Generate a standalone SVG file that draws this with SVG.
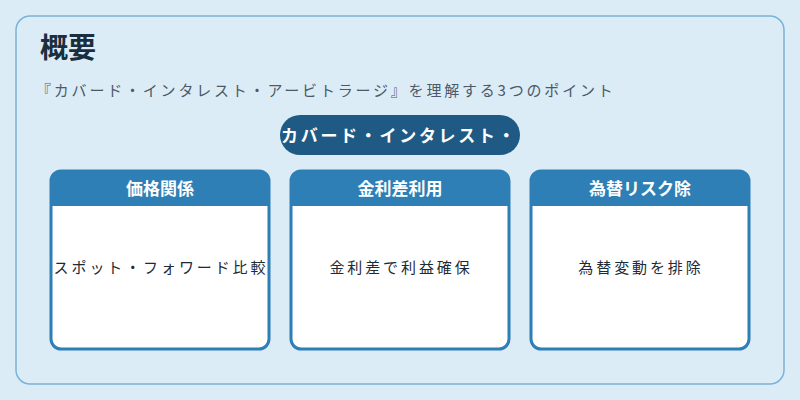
<svg xmlns="http://www.w3.org/2000/svg" width="800" height="400" viewBox="0 0 800 400">
<defs><style>
text{font-family:"Noto Sans CJK JP","Noto Sans",sans-serif}
.card{fill:#fff;stroke:#2e7fb5;stroke-width:3}
.hd{fill:#2e7fb5}
.ht{fill:#fff;font-size:17px;font-weight:bold;text-anchor:middle}
.bt{fill:#1e2a35;font-size:15px;letter-spacing:2.9px;text-anchor:middle}
</style>
<clipPath id="c1"><rect x="280" y="115" width="240" height="40" rx="20"/></clipPath></defs>
<rect width="800" height="400" fill="#dcecf7"/>
<rect x="16" y="16" width="768" height="368" rx="14" fill="#dcecf7" stroke="#7ab3d6" stroke-width="1.5"/>
<text x="40" y="58" font-size="28" font-weight="bold" fill="#1a2e3e">概要</text>
<text x="36" y="96" font-size="15" letter-spacing="2.8" fill="#4a5a68">『カバード・インタレスト・アービトラージ』を理解する3つのポイント</text>
<g id="title"><rect x="280" y="115" width="240" height="40" rx="20" fill="#1f5a85"/>
<text x="281" y="142" clip-path="url(#c1)" font-size="17" font-weight="bold" letter-spacing="2.7" fill="#fff">カバード・インタレスト・アービトラージ</text></g>
<g id="n1"><rect class="card" x="51" y="171" width="218" height="178" rx="10"/><path class="hd" d="M51 206V181a10 10 0 0 1 10-10h198a10 10 0 0 1 10 10v25z"/>
<text class="ht" x="160" y="195">価格関係</text><text class="bt" x="161" y="273">スポット・フォワード比較</text></g>
<g id="n2"><rect class="card" x="291" y="171" width="218" height="178" rx="10"/><path class="hd" d="M291 206V181a10 10 0 0 1 10-10h198a10 10 0 0 1 10 10v25z"/>
<text class="ht" x="400" y="195">金利差利用</text><text class="bt" x="401" y="273">金利差で利益確保</text></g>
<g id="n3"><rect class="card" x="531" y="171" width="218" height="178" rx="10"/><path class="hd" d="M531 206V181a10 10 0 0 1 10-10h198a10 10 0 0 1 10 10v25z"/>
<text class="ht" x="640" y="195">為替リスク除</text><text class="bt" x="641" y="273">為替変動を排除</text></g>
<g id="connectors"/>
</svg>
